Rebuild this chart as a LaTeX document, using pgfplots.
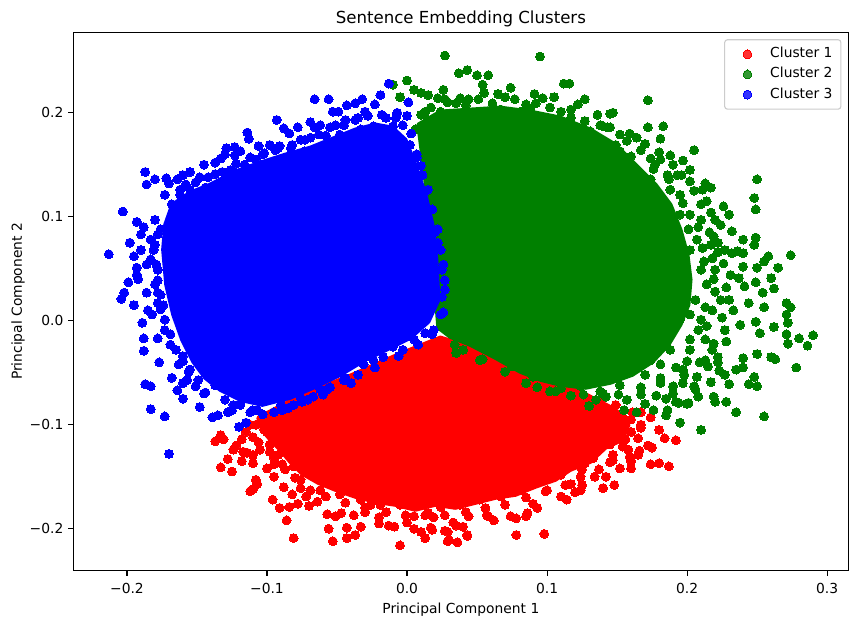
\documentclass[border=0pt]{standalone}
\usepackage{fontspec}
\setmainfont{DejaVu Sans}
\usepackage{pgfplots}
\pgfplotsset{compat=1.18}
\definecolor{mplred}{RGB}{255,0,0}
\definecolor{mplgreen}{RGB}{0,128,0}
\definecolor{mplblue}{RGB}{0,0,255}
\begin{document}
\begin{tikzpicture}
\useasboundingbox (-52.8bp,-38.3bp) rectangle (564.2bp,410.9bp);
\begin{axis}[
  at={(0,0)}, anchor=south west,
  scale only axis, width=558bp, height=387.7bp,
  xmin=-0.2383, xmax=0.3152, ymin=-0.2404, ymax=0.2774,
  xtick={-0.2,-0.1,0,0.1,0.2,0.3},
  xticklabels={−0.2,−0.1,0.0,0.1,0.2,0.3},
  ytick={-0.2,-0.1,0,0.1,0.2},
  yticklabels={−0.2,−0.1,0.0,0.1,0.2},
  tick align=outside, major tick length=3.5bp,
  xtick pos=left, ytick pos=left,
  tick style={black, line width=0.8bp},
  axis line style={line width=0.8bp},
  tick label style={font=\fontsize{10}{12}\selectfont},
  xticklabel style={anchor=north, inner sep=0pt, yshift=-5bp},
  yticklabel style={anchor=east, inner sep=0pt, xshift=-3.5bp},
  xlabel={Principal Component 1},
  ylabel={Principal Component 2},
  xlabel style={at={(axis description cs:0.5,-0.0792)}, anchor=base, font=\fontsize{10}{12}\selectfont},
  ylabel style={at={(axis description cs:-0.0663,0.5)}, anchor=base, rotate=0, font=\fontsize{10}{12}\selectfont},
  title={Sentence Embedding Clusters},
  every axis title/.style={at={(axis description cs:0.5,1)}, anchor=base, yshift=6.5bp, font=\fontsize{12}{14}\selectfont},
  legend style={at={(axis description cs:1,1)}, anchor=north east, xshift=-5bp, yshift=-5bp,
    draw=black!20, line width=0.8bp, rounded corners=2bp, fill=white, fill opacity=0.8, text opacity=1,
    font=\fontsize{10}{12}\selectfont, inner xsep=4bp, inner ysep=3.5bp, row sep=0.5bp,
    nodes={inner sep=2bp, text height=7.5bp, text depth=2.5bp},
    cells={anchor=west}},
  legend cell align=left,
  legend image code/.code={\path (0bp,0bp) (26bp,0bp); \draw[#1] plot coordinates {(12bp,0bp)};},
]
% ---------------- Cluster 1 (red) ----------------
\addplot[forget plot, fill=mplred, draw=mplred, line width=3bp, line join=round] coordinates {
(-0.1062,-0.0933) (-0.0762,-0.0721) (-0.0405,-0.0529) (-0.0048,-0.0317) (0.0238,-0.0163)
(0.0524,-0.0279) (0.0881,-0.0471) (0.1238,-0.0683) (0.1488,-0.0856) (0.1581,-0.1000)
(0.1538,-0.1144) (0.1416,-0.1221) (0.1309,-0.1356) (0.1166,-0.1433) (0.1059,-0.1529)
(0.0916,-0.1596) (0.0774,-0.1673) (0.0631,-0.1702) (0.0488,-0.1750) (0.0345,-0.1798)
(0.0202,-0.1769) (0.0059,-0.1817) (-0.0084,-0.1769) (-0.0226,-0.1740) (-0.0369,-0.1692)
(-0.0512,-0.1625) (-0.0634,-0.1558) (-0.0748,-0.1471) (-0.0834,-0.1356) (-0.0905,-0.1240)
(-0.0976,-0.1144) (-0.1034,-0.1048)
} -- cycle;
\addplot[only marks, mark=*, mark size=3.2bp, mark options={fill=mplred, draw=mplred, line width=0pt}] coordinates {
(-0.137,-0.116) (-0.133,-0.110) (-0.133,-0.141) (-0.125,-0.145) (-0.128,-0.133) (-0.124,-0.124)
(-0.118,-0.114) (-0.110,-0.112) (-0.117,-0.126) (-0.110,-0.129) (-0.110,-0.137) (-0.112,-0.164)
(-0.108,-0.153) (-0.107,-0.157) (-0.095,-0.150) (-0.096,-0.172) (-0.091,-0.180) (-0.086,-0.192)
(-0.081,-0.209) (-0.084,-0.179) (-0.078,-0.176) (-0.082,-0.167) (-0.076,-0.161) (-0.072,-0.169)
(-0.064,-0.174) (-0.057,-0.186) (-0.056,-0.200) (-0.053,-0.212) (-0.051,-0.188) (-0.043,-0.209)
(-0.043,-0.199) (-0.037,-0.206) (-0.033,-0.198) (-0.038,-0.187) (-0.030,-0.184) (-0.026,-0.177)
(-0.020,-0.189) (-0.013,-0.197) (-0.009,-0.198) (-0.005,-0.216) (0.010,-0.203) (0.013,-0.209)
(0.017,-0.199) (0.029,-0.203) (0.030,-0.211) (0.036,-0.213) (0.043,-0.206) (0.019,-0.189)
(0.000,-0.194) (0.005,-0.188) (0.015,-0.185) (0.024,-0.179) (0.033,-0.194) (0.057,-0.187)
(-0.095,-0.138) (-0.095,-0.132) (-0.106,-0.117) (-0.100,-0.107) (-0.101,-0.102) (-0.091,-0.098)
(-0.114,-0.127) (-0.105,-0.124) (-0.094,-0.137) (-0.081,-0.140) (-0.110,-0.162)
(0.174,-0.093) (0.167,-0.103) (0.160,-0.107) (0.184,-0.113) (0.192,-0.115) (0.175,-0.122)
(0.166,-0.125) (0.154,-0.121) (0.159,-0.131) (0.165,-0.129) (0.147,-0.129) (0.145,-0.136)
(0.133,-0.132) (0.127,-0.137) (0.152,-0.142) (0.160,-0.142) (0.174,-0.138) (0.180,-0.137)
(0.187,-0.140) (0.134,-0.150) (0.140,-0.161) (0.148,-0.158) (0.125,-0.158) (0.124,-0.163)
(0.117,-0.157) (0.110,-0.169) (0.114,-0.172) (0.100,-0.163) (0.093,-0.180) (0.086,-0.185)
(0.085,-0.188) (0.078,-0.190) (0.098,-0.205) (0.078,-0.206) (0.074,-0.188) (0.058,-0.188)
(0.044,-0.188) (0.043,-0.207) (0.029,-0.212) (0.027,-0.202) (0.040,-0.198) (0.018,-0.201)
(0.125,-0.143) (0.122,-0.138) (0.107,-0.140) (0.104,-0.148) (0.097,-0.153) (0.088,-0.155)
(-0.076,-0.153) (-0.062,-0.163) (-0.048,-0.167) (-0.033,-0.172) (-0.019,-0.177) (-0.005,-0.177)
(0.010,-0.177) (0.024,-0.175) (0.038,-0.177) (0.052,-0.172) (0.067,-0.169) (0.081,-0.163)
(0.095,-0.155) (0.110,-0.148) (0.120,-0.136) (0.135,-0.124) (0.145,-0.119) (0.152,-0.105)
(0.154,-0.093) (0.149,-0.081) (0.138,-0.076) (0.131,-0.086) (-0.087,-0.143) (-0.092,-0.129)
(-0.098,-0.119) (-0.102,-0.105) (-0.108,-0.100) (-0.131,-0.114) (0.160,-0.095) (0.167,-0.088)
(0.138,-0.090) (0.156,-0.114) (-0.062,-0.151) (-0.026,-0.167) (0.017,-0.172) (0.045,-0.170)
(0.074,-0.164) (0.102,-0.151)
(-0.098,-0.126) (-0.089,-0.138) (-0.080,-0.151) (-0.069,-0.163) (-0.058,-0.169) (-0.044,-0.175)
(-0.030,-0.180) (-0.015,-0.184) (-0.001,-0.187) (0.013,-0.187) (0.027,-0.187) (0.042,-0.184)
(0.056,-0.180) (0.070,-0.177) (0.085,-0.170) (0.099,-0.164) (0.113,-0.158) (0.124,-0.150)
(0.137,-0.143) (0.147,-0.134) (0.158,-0.124) (0.165,-0.113) (0.167,-0.100) (0.161,-0.088)
(-0.112,-0.100) (-0.115,-0.107)
(-0.070,-0.178) (-0.047,-0.185) (-0.020,-0.195) (0.005,-0.200) (0.035,-0.197) (0.062,-0.192)
(0.090,-0.176) (0.120,-0.165) (0.142,-0.150) (0.160,-0.135) (0.172,-0.120) (0.180,-0.105)
(-0.100,-0.142) (-0.088,-0.160) (-0.118,-0.135) (-0.122,-0.120)
};
\addlegendentry{Cluster 1}
% ---------------- Cluster 2 (green) ----------------
\addplot[forget plot, fill=mplgreen, draw=mplgreen, line width=3bp, line join=round] coordinates {
(0.0081,0.1885) (0.0238,0.2010) (0.0452,0.2029) (0.0666,0.2048) (0.0881,0.2010) (0.1095,0.1952)
(0.1309,0.1837) (0.1488,0.1692) (0.1631,0.1500) (0.1774,0.1308) (0.1881,0.1115) (0.1952,0.0875)
(0.2002,0.0635) (0.2024,0.0394) (0.2009,0.0154) (0.1952,-0.0038) (0.1866,-0.0231) (0.1752,-0.0394)
(0.1609,-0.0519) (0.1452,-0.0596) (0.1274,-0.0644) (0.1095,-0.0615) (0.0952,-0.0567) (0.0809,-0.0490)
(0.0631,-0.0356) (0.0452,-0.0231) (0.0309,-0.0154) (0.0224,-0.0067) (0.0181,0.0683) (0.0131,0.1356)
} -- cycle;
\addplot[only marks, mark=*, mark size=3.2bp, mark options={fill=mplgreen, draw=mplgreen, line width=0pt}] coordinates {
(0.027,0.255) (0.095,0.254) (0.037,0.238) (0.043,0.241) (0.050,0.236) (0.058,0.236) (0.054,0.227)
(0.055,0.219) (0.000,0.231) (-0.010,0.227) (0.005,0.222) (0.010,0.219) (0.015,0.217) (0.026,0.222)
(0.022,0.214) (-0.005,0.215) (0.029,0.210) (0.035,0.209) (0.044,0.213) (0.042,0.207) (0.065,0.218)
(0.074,0.224) (0.070,0.215) (0.091,0.218) (0.097,0.214) (0.105,0.215) (0.112,0.228) (0.116,0.228)
(0.127,0.213) (0.122,0.208) (0.110,0.201) (0.085,0.208) (0.081,0.201) (0.098,0.191) (0.127,0.192)
(0.136,0.198) (0.145,0.199) (0.143,0.186) (0.157,0.173) (0.164,0.176) (0.152,0.163) (0.160,0.158)
(0.162,0.138) (0.015,0.193) (0.031,0.195) (0.041,0.191) (0.055,0.196)
(0.172,0.212) (0.172,0.186) (0.183,0.187) (0.181,0.175) (0.205,0.164) (0.188,0.159) (0.197,0.154)
(0.174,0.156) (0.186,0.140) (0.193,0.140) (0.202,0.134) (0.213,0.132) (0.217,0.128) (0.211,0.126)
(0.250,0.136) (0.248,0.118) (0.249,0.107) (0.226,0.110) (0.230,0.102) (0.224,0.092) (0.217,0.104)
(0.210,0.097) (0.219,0.081) (0.232,0.086) (0.240,0.078) (0.249,0.080) (0.248,0.073) (0.236,0.067)
(0.258,0.062) (0.255,0.057) (0.274,0.063) (0.265,0.051) (0.250,0.051) (0.201,0.088) (0.197,0.113)
(0.147,0.200) (0.140,0.187) (0.145,0.186) (0.240,0.052) (0.240,0.065) (0.232,0.065) (0.222,0.066)
(0.237,0.041) (0.249,0.037) (0.260,0.041) (0.262,0.031) (0.254,0.027) (0.241,0.033) (0.244,0.017)
(0.255,0.013) (0.271,0.017) (0.274,0.013) (0.271,0.006) (0.272,-0.002) (0.262,-0.006) (0.249,-0.001)
(0.252,-0.012) (0.238,-0.004) (0.290,-0.014) (0.280,-0.017) (0.286,-0.024) (0.271,-0.013)
(0.272,-0.022) (0.250,-0.032) (0.260,-0.035) (0.263,-0.037) (0.278,-0.045) (0.240,-0.036)
(0.240,-0.045) (0.235,-0.047) (0.227,-0.052) (0.222,-0.040) (0.222,-0.035) (0.230,-0.061)
(0.244,-0.061) (0.248,-0.054) (0.250,-0.063) (0.235,-0.088) (0.255,-0.092) (0.219,-0.073)
(0.228,-0.078) (0.220,-0.078) (0.208,-0.073) (0.201,-0.079) (0.205,-0.063) (0.217,-0.059)
(0.195,-0.098) (0.210,-0.105) (0.186,-0.086) (0.194,-0.079) (0.185,-0.091) (0.176,-0.086)
(0.164,-0.088) (0.155,-0.086) (0.197,-0.060) (0.190,-0.063) (0.181,-0.060) (0.197,-0.047)
(0.200,-0.039) (0.215,-0.044) (0.207,-0.054)
(0.075,-0.044) (0.090,-0.054) (0.093,-0.064) (0.110,-0.065) (0.130,-0.082) (0.124,-0.063)
(0.140,-0.070) (0.157,-0.076) (0.054,-0.037) (0.036,-0.013) (0.034,-0.023) (0.035,-0.031)
(0.097,-0.045) (0.063,-0.025) (0.043,-0.013) (0.192,-0.078) (0.200,-0.080) (0.126,-0.071) (0.142,-0.073)
(0.188,0.126) (0.195,0.102) (0.202,0.068) (0.210,0.049) (0.206,0.020) (0.195,0.001) (0.202,-0.018)
(0.188,-0.028) (0.181,-0.042) (0.170,-0.052) (0.152,-0.062) (0.167,-0.071) (0.138,-0.068)
(0.106,-0.068) (0.195,0.049) (0.199,0.030) (0.210,0.001) (0.213,-0.018) (0.224,0.020) (0.220,0.049)
(0.217,0.073) (0.210,0.112) (0.202,0.145) (0.181,0.155) (0.167,0.164) (0.149,0.169) (0.174,0.136)
(0.227,-0.009) (0.010,0.198) (0.017,0.205) (0.024,0.201) (0.006,0.184) (0.192,0.088) (0.202,0.006)
(0.185,-0.023) (0.174,-0.038) (0.067,0.203) (0.045,0.198) (0.088,0.203) (0.117,0.195) (0.131,0.182)
(0.152,0.155)
(0.013,0.201) (0.027,0.213) (0.038,0.214) (0.051,0.213) (0.061,0.209) (0.077,0.213) (0.092,0.209)
(0.102,0.205) (0.117,0.203) (0.138,0.188) (0.152,0.179) (0.167,0.164) (0.177,0.150) (0.187,0.136)
(0.195,0.121) (0.202,0.102) (0.207,0.078) (0.212,0.057) (0.214,0.035) (0.213,0.013) (0.208,-0.009)
(0.202,-0.028) (0.192,-0.045) (0.181,-0.055) (0.167,-0.064) (0.151,-0.071) (0.135,-0.076)
(0.117,-0.072) (0.102,-0.068) (0.085,-0.060) (0.070,-0.049) (0.052,-0.038) (0.040,-0.028)
(0.220,0.097) (0.227,0.068) (0.231,0.044) (0.230,0.020) (0.225,0.003) (0.218,-0.028) (0.213,-0.038)
(0.206,-0.066)
(0.205,0.125) (0.214,0.115) (0.208,0.090) (0.216,0.085) (0.222,0.075) (0.211,0.070) (0.218,0.060)
(0.226,0.055) (0.219,0.040) (0.228,0.032) (0.220,0.028) (0.233,0.010) (0.218,0.010) (0.214,-0.005)
(0.228,-0.020) (0.219,-0.022) (0.209,-0.040) (0.223,-0.048) (0.198,-0.052) (0.190,-0.070)
(0.178,-0.072) (0.170,-0.080) (0.185,-0.075) (0.170,0.170) (0.180,0.162) (0.190,0.150)
(0.159,0.180) (0.196,0.140) (0.176,0.146)
};
\addlegendentry{Cluster 2}
% ---------------- Cluster 3 (blue) ----------------
\addplot[forget plot, fill=mplblue, draw=mplblue, line width=3bp, line join=round] coordinates {
(-0.1741,0.0683) (-0.1726,0.0923) (-0.1676,0.1115) (-0.1548,0.1231) (-0.1405,0.1308) (-0.1226,0.1433)
(-0.1048,0.1519) (-0.0869,0.1596) (-0.0691,0.1663) (-0.0512,0.1760) (-0.0369,0.1837) (-0.0226,0.1885)
(-0.0105,0.1856) (-0.0012,0.1740) (0.0059,0.1500) (0.0131,0.1212) (0.0181,0.0923) (0.0209,0.0587)
(0.0224,0.0202) (0.0152,-0.0010) (0.0024,-0.0163) (-0.0119,-0.0260) (-0.0298,-0.0375) (-0.0476,-0.0519)
(-0.0655,-0.0635) (-0.0834,-0.0740) (-0.1034,-0.0808) (-0.1191,-0.0760) (-0.1334,-0.0663)
(-0.1441,-0.0548) (-0.1526,-0.0394) (-0.1605,-0.0183) (-0.1669,0.0058) (-0.1719,0.0346)
} -- cycle;
\addplot[only marks, mark=*, mark size=3.2bp, mark options={fill=mplblue, draw=mplblue, line width=0pt}] coordinates {
(-0.213,0.064) (-0.203,0.105) (-0.187,0.143) (-0.186,0.131) (-0.193,0.095) (-0.180,0.136)
(-0.172,0.137) (-0.164,0.136) (-0.148,0.138) (-0.137,0.141) (-0.133,0.156) (-0.129,0.166)
(-0.123,0.167) (-0.123,0.159) (-0.114,0.181) (-0.113,0.175) (-0.098,0.169) (-0.093,0.193)
(-0.088,0.185) (-0.084,0.180) (-0.066,0.213) (-0.056,0.213) (-0.053,0.201) (-0.066,0.186)
(-0.058,0.178) (-0.043,0.207) (-0.037,0.209) (-0.073,0.163) (-0.091,0.168)
(-0.204,0.021) (-0.202,0.027) (-0.189,-0.002) (-0.188,-0.017) (-0.188,-0.029) (-0.187,-0.061)
(-0.183,-0.063) (-0.183,-0.085) (-0.173,-0.092) (-0.170,-0.128) (-0.164,-0.067) (-0.160,-0.075)
(-0.157,-0.057) (-0.151,-0.063) (-0.145,-0.070) (-0.148,-0.083) (-0.139,-0.093) (-0.160,-0.034)
(-0.178,-0.017) (-0.193,0.051) (-0.193,0.044) (-0.186,0.054) (-0.186,0.027) (-0.178,0.027)
(-0.182,0.006) (-0.178,0.017) (-0.195,0.062) (-0.120,-0.102) (-0.115,-0.098)
(-0.013,0.228) (-0.019,0.217) (-0.023,0.208) (-0.007,0.200) (0.001,0.210) (0.000,0.197)
(-0.003,0.188) (-0.010,0.187) (0.003,0.180) (-0.001,0.165) (0.007,0.160) (0.010,0.149) (-0.024,0.187)
(-0.135,-0.091) (-0.128,-0.088) (-0.107,-0.086) (-0.095,-0.088) (-0.081,-0.081) (-0.071,-0.076)
(-0.067,-0.073) (-0.055,-0.064) (-0.044,-0.055) (-0.144,-0.069) (-0.124,-0.081) (-0.110,-0.086)
(-0.085,-0.084) (-0.057,-0.066) (0.005,-0.018) (-0.003,-0.028) (-0.010,-0.025) (-0.017,-0.035)
(-0.024,-0.038) (-0.031,-0.042) (-0.035,-0.052) (-0.045,-0.057) (0.019,-0.009) (0.013,-0.012)
(0.026,0.008) (0.027,0.039) (0.026,0.054) (0.022,0.075) (0.020,0.085) (0.014,0.109) (0.010,0.097)
(0.025,0.023)
(-0.176,0.088) (-0.180,0.073) (-0.183,0.059) (-0.178,0.049) (-0.168,0.112) (-0.162,0.121)
(-0.155,0.126) (-0.144,0.128) (-0.135,0.131) (-0.126,0.145) (-0.116,0.150) (-0.108,0.155)
(-0.103,0.160) (-0.094,0.164) (-0.083,0.166) (-0.076,0.174) (-0.069,0.176) (-0.062,0.188)
(-0.051,0.188) (-0.044,0.193) (-0.035,0.195) (-0.030,0.201) (-0.048,0.179) (-0.033,0.184)
(-0.015,0.195) (-0.180,0.035) (-0.176,0.011) (-0.173,-0.009) (-0.169,-0.023) (-0.163,-0.042)
(-0.155,-0.047) (-0.149,-0.057) (-0.137,-0.062) (-0.130,-0.076) (-0.119,-0.081) (-0.112,-0.088)
(-0.090,-0.081) (-0.076,-0.074) (-0.062,-0.066) (-0.183,0.078) (-0.190,0.068) (-0.198,0.075)
(-0.190,0.083) (-0.199,0.037) (-0.195,0.015) (-0.173,0.121) (-0.158,0.131)
(-0.162,0.126) (-0.151,0.133) (-0.142,0.138) (-0.132,0.143) (-0.122,0.151) (-0.112,0.157)
(-0.102,0.161) (-0.092,0.166) (-0.082,0.169) (-0.073,0.174) (-0.063,0.179) (-0.055,0.186)
(-0.045,0.188) (-0.037,0.193) (-0.028,0.197) (-0.018,0.198) (-0.008,0.195) (-0.155,0.143)
(-0.137,0.152) (-0.119,0.163) (-0.106,0.168) (-0.078,0.186) (-0.069,0.191) (-0.049,0.201)
(-0.032,0.213) (-0.180,0.097) (-0.178,0.083) (-0.181,0.068) (-0.179,0.054) (-0.178,0.039)
(-0.176,0.025) (-0.174,0.015) (-0.173,0.001) (-0.169,-0.013) (-0.165,-0.028) (-0.160,-0.039)
(-0.156,-0.049) (-0.125,-0.086) (-0.103,-0.090) (-0.089,-0.086) (-0.075,-0.078) (-0.060,-0.071)
(-0.040,-0.060) (-0.023,-0.045) (-0.006,-0.034) (0.008,-0.023) (0.018,-0.013) (0.024,0.006)
(0.027,0.030) (0.025,0.049) (0.024,0.068) (0.022,0.088) (0.018,0.107) (0.015,0.126) (0.011,0.140)
(0.007,0.157) (0.002,0.169)
(-0.188,0.090) (-0.192,0.040) (-0.185,0.010) (-0.177,-0.040) (-0.168,-0.055) (-0.160,-0.060)
(-0.170,0.132) (-0.160,0.140) (-0.145,0.150) (-0.130,0.160)
};
\addlegendentry{Cluster 3}
\end{axis}
\end{tikzpicture}
\end{document}
